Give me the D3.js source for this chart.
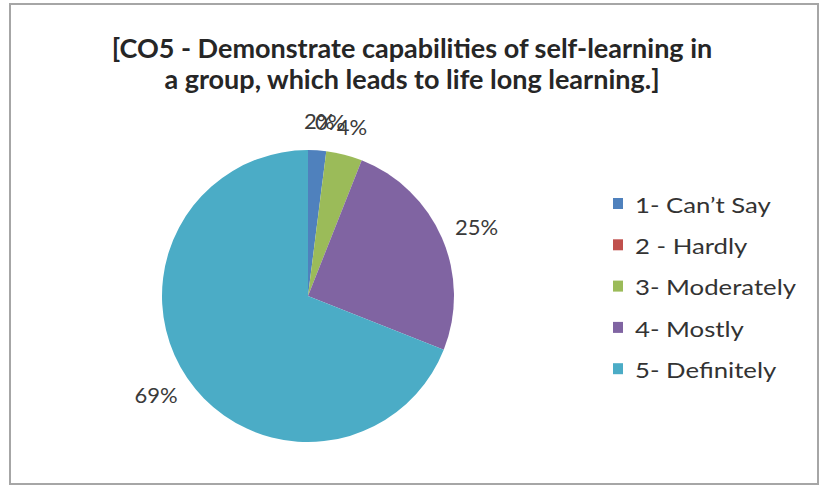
<!DOCTYPE html>
<html><head><meta charset="utf-8">
<script src="https://cdn.jsdelivr.net/npm/d3@7"></script>
<style>body{margin:0;background:#fff}svg{display:block}</style>
</head><body>
<svg id="c" width="824" height="486"></svg>
<script>
const categories = ["1- Can\u2019t Say", "2 - Hardly", "3- Moderately", "4- Mostly", "5- Definitely"];
const values = [2, 0, 4, 25, 69];
const labels = ["2%", "0%", "4%", "25%", "69%"];
const colors = ["#4F81BD", "#C0504D", "#9BBB59", "#8064A2", "#4BACC6"];
const titleLines = ["[CO5 - Demonstrate capabilities of self-learning in", "a group, which leads to life long learning.]"];

const svg = d3.select("#c");
const font = "Lato, 'Open Sans', sans-serif";

svg.append("rect").attr("x", 10).attr("y", 4).attr("width", 808).attr("height", 480)
  .attr("fill", "#fff").attr("stroke", "#a6a6a6").attr("stroke-width", 2);

svg.selectAll("text.title").data(titleLines).join("text")
  .attr("class", "title")
  .attr("x", 412).attr("y", (d, i) => 58 + i * 31)
  .attr("text-anchor", "middle")
  .attr("font-family", font).attr("font-weight", "bold").attr("font-size", 27)
  .attr("fill", "#262626")
  .text(d => d);

const cx = 308, cy = 296, r = 146;
const pie = d3.pie().sort(null).value(d => d.v);
const data = pie(categories.map((c, i) => ({c, v: values[i], l: labels[i], col: colors[i]})));
const arc = d3.arc().innerRadius(0).outerRadius(r);
const g = svg.append("g").attr("transform", `translate(${cx},${cy})`);
g.selectAll("path").data(data).join("path")
  .attr("d", arc).attr("fill", d => d.data.col);

const gap = 16;
const lbl = g.selectAll("text").data(data).join("text")
  .attr("text-anchor", "middle").attr("dominant-baseline", "central")
  .attr("font-family", font).attr("font-size", 22).attr("fill", "#3a3a3a")
  .text(d => d.data.l);
lbl.each(function(d) {
  const a = (d.startAngle + d.endAngle) / 2;
  const b = this.getBBox();
  const px = Math.sin(a) * (r + gap), py = -Math.cos(a) * (r + gap);
  d3.select(this)
    .attr("x", px + Math.sin(a) * b.width / 2)
    .attr("y", py - Math.cos(a) * b.height / 2);
});

const leg = svg.append("g");
const items = leg.selectAll("g").data(categories).join("g")
  .attr("transform", (d, i) => `translate(613,${204 + i * 41.3})`);
items.append("rect").attr("x", 0).attr("y", -6).attr("width", 10).attr("height", 11)
  .attr("fill", (d, i) => colors[i]);
items.append("text").attr("x", 0).attr("y", 0).attr("dominant-baseline", "central")
  .attr("transform", "translate(22,0) scale(1.17,1)")
  .attr("font-family", font).attr("font-size", 22).attr("fill", "#333")
  .text(d => d);
</script>
</body></html>
